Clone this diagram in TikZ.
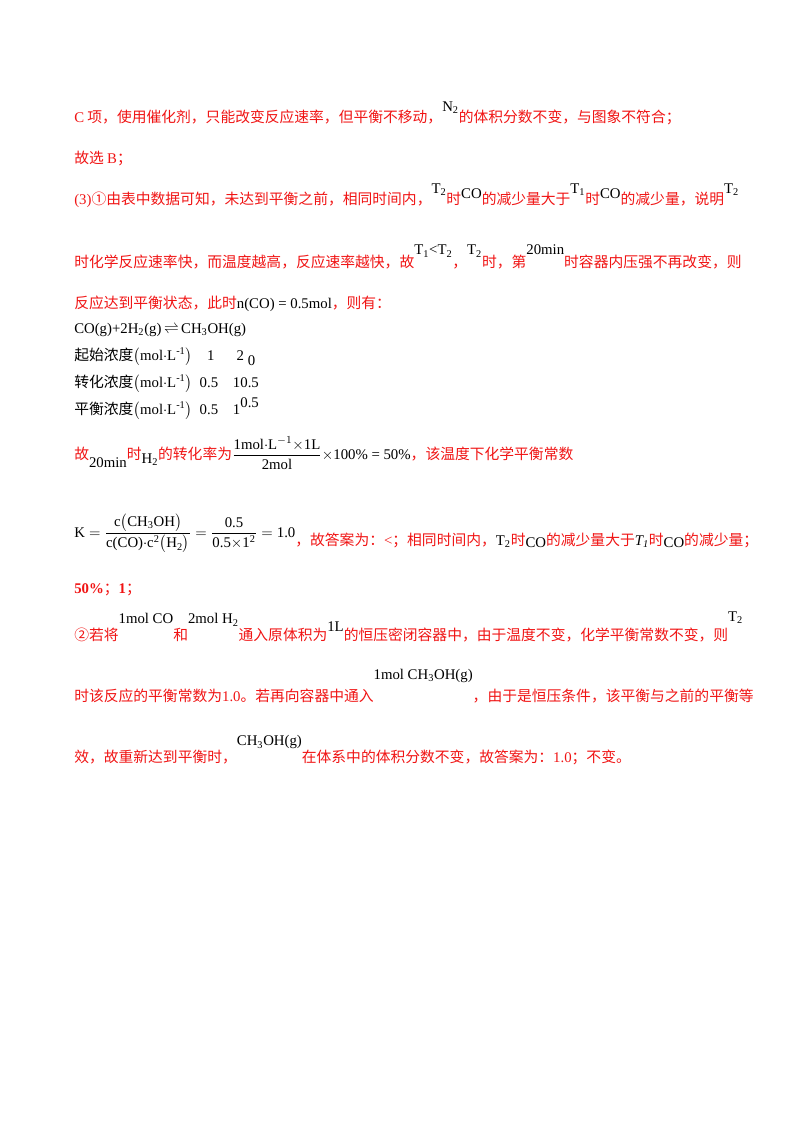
\documentclass[tikz,border=0pt]{standalone}
\usepackage{fontspec}
\setmainfont{Noto Sans CJK SC}
\newfontfamily\lat{Liberation Serif}
\usepackage{amsmath}
\definecolor{rd}{RGB}{240,20,20}
\newcommand\up[2][6pt]{\raisebox{#1}{\lat #2}}
\newcommand\sbb[1]{\textsubscript{#1}}
\begin{document}
\begin{tikzpicture}[x=0.744pt,y=-0.744pt,
  t/.style={anchor=base west,inner sep=0pt,font=\fontsize{11pt}{13pt}\selectfont,text=rd},
  k/.style={anchor=base west,inner sep=0pt,font=\fontsize{11pt}{13pt}\selectfont,text=black}]
\useasboundingbox (0,0) rectangle (800,1132);
\node[t] (l1) at (74,122) {{\lat C} 项，使用催化剂，只能改变反应速率，但平衡不移动，\up[8pt]{\color{black}N\sbb{2}}的体积分数不变，与图象不符合；};
\node[t] (l2) at (74,163) {故选 {\lat B}；};
\node[t] (l3) at (74,204) {{\lat (3)}①由表中数据可知，未达到平衡之前，相同时间内，\up[8pt]{\color{black}T\sbb{2}}时\up[4pt]{\color{black}CO}的减少量大于\up[8pt]{\color{black}T\sbb{1}}时\up[4pt]{\color{black}CO}的减少量，说明\up[8pt]{\color{black}T\sbb{2}}};
\node[t] (l4) at (74,267) {时化学反应速率快，而温度越高，反应速率越快，故\up[9pt]{\color{black}T\sbb{1}<T\sbb{2}}，\up[9pt]{\color{black}T\sbb{2}}时，第\up[9pt]{\color{black}20min}时容器内压强不再改变，则};
\node[t] (l5) at (74,308) {反应达到平衡状态，此时{\lat\color{black} n(CO) = 0.5mol}，则有：};
\node[k] (e0) at (74,333) {\lat CO(g)+2H\sbb{2}(g)\,$\rightleftharpoons$\,CH\sbb{3}OH(g)};
\node[k] (e1) at (74,360) {起始浓度{\lat$\big($mol$\cdot$L\textsuperscript{-1}$\big)$\quad 1\quad\ \ 2\ \raisebox{-4pt}{0}}};
\node[k] (e2) at (74,387) {转化浓度{\lat$\big($mol$\cdot$L\textsuperscript{-1}$\big)$\ \ 0.5\quad 10.5}};
\node[k] (e3) at (74,414) {平衡浓度{\lat$\big($mol$\cdot$L\textsuperscript{-1}$\big)$\ \ 0.5\quad 1\raisebox{5pt}{0.5}}};
\node[t] (l6) at (74,459) {故\raisebox{-6pt}{\lat\color{black}20min}时\raisebox{-3pt}{\lat\color{black}H\sbb{2}}的转化率为{\color{black}$\dfrac{\text{\lat 1mol$\cdot$L\textsuperscript{$-1$}$\times$1L}}{\text{\lat 2mol}}$\lat$\times$100\% = 50\%}，该温度下化学平衡常数};
\node[t] (l7) at (74,537) {{\color{black}$\text{\lat K} = \dfrac{\text{\lat c$\big($CH\sbb{3}OH$\big)$}}{\text{\lat c(CO)$\cdot$c\textsuperscript{2}$\big($H\sbb{2}$\big)$}} = \dfrac{\text{\lat 0.5}}{\text{\lat 0.5$\times$1\textsuperscript{2}}} = \text{\lat 1.0}$}\raisebox{-6pt}{，故答案为：{\lat <}；相同时间内，{\lat\color{black}T\sbb{2}}时\raisebox{-2pt}{\lat\color{black}CO}的减少量大于{\lat\color{black}\itshape T\sbb{1}}时\raisebox{-2pt}{\lat\color{black}CO}的减少量；}};
\node[t] (l8) at (74,593) {{\lat\bfseries 50\%}；{\lat\bfseries 1}；};
\node[t] (l9) at (74,640) {②若将\up[12pt]{\color{black}1mol CO}和\up[12pt]{\color{black}2mol H\sbb{2}}通入原体积为\up[6pt]{\color{black}1L}的恒压密闭容器中，由于温度不变，化学平衡常数不变，则\up[14pt]{\color{black}T\sbb{2}}};
\node[t] (l10) at (74,701) {时该反应的平衡常数为{\lat 1.0}。若再向容器中通入\up[16pt]{\color{black}1mol CH\sbb{3}OH(g)}，由于是恒压条件，该平衡与之前的平衡等};
\node[t] (l11) at (74,762) {效，故重新达到平衡时，\up[12pt]{\color{black}CH\sbb{3}OH(g)}在体系中的体积分数不变，故答案为：{\lat 1.0}；不变。};
\end{tikzpicture}
\end{document}
